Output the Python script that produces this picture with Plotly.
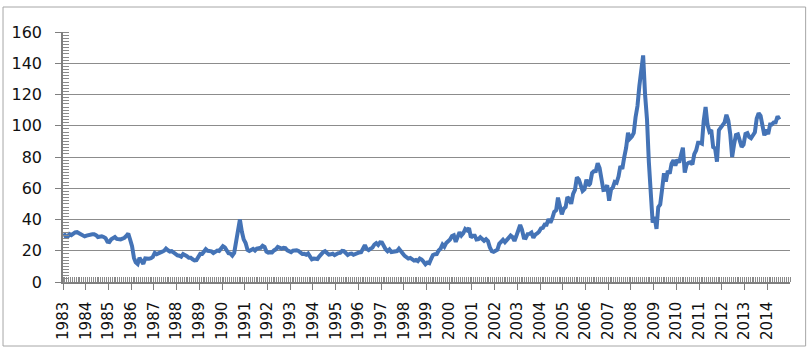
import pandas as pd
import plotly.graph_objects as go

# Monthly oil price (USD/barrel), Jan 1983 .. Jul 2014
p1983 = [31.2, 29.0, 28.8, 30.6, 30.0, 31.0, 31.7, 31.9, 31.1, 30.4, 29.8, 29.2]
p1984 = [29.7, 30.1, 30.8, 30.6, 30.5, 30.0, 28.8, 29.3, 29.3, 28.8, 28.1, 25.8]
p1985 = [25.6, 27.3, 28.2, 28.8, 27.6, 27.1, 27.3, 27.8, 28.3, 29.5, 31.0, 27.2]
p1986 = [22.9, 15.4, 12.6, 11.5, 15.4, 13.5, 11.6, 15.1, 14.9, 14.9, 15.2, 16.1]
p1987 = [18.6, 17.8, 18.3, 18.6, 19.4, 20.0, 21.4, 20.3, 19.5, 19.8, 18.9, 17.3]
p1988 = [17.1, 16.8, 16.2, 17.9, 17.4, 16.5, 15.5, 15.5, 14.5, 13.8, 14.0, 16.3]
p1989 = [18.0, 17.9, 19.4, 21.0, 20.0, 20.0, 19.6, 18.5, 19.6, 20.1, 19.8, 21.1]
p1990 = [22.9, 22.1, 20.4, 18.4, 18.2, 16.9, 18.6, 27.2, 33.7, 40.0, 32.3, 27.3]
p1991 = [25.0, 20.5, 19.9, 20.8, 21.2, 20.2, 21.4, 21.7, 21.9, 23.2, 22.5, 19.5]
p1992 = [18.8, 19.0, 18.9, 20.2, 20.9, 22.4, 21.8, 21.4, 21.9, 21.7, 20.3, 19.4]
p1993 = [19.1, 20.1, 20.3, 20.3, 19.9, 19.1, 17.9, 18.0, 17.5, 18.2, 16.7, 14.5]
p1994 = [15.0, 14.8, 14.7, 16.4, 17.9, 19.1, 19.7, 18.4, 17.5, 17.7, 18.1, 17.2]
p1995 = [18.0, 18.5, 18.6, 19.9, 19.7, 18.4, 17.3, 18.0, 18.2, 17.4, 18.0, 19.0]
p1996 = [18.9, 19.1, 21.3, 23.5, 21.2, 20.4, 21.3, 22.0, 24.0, 24.9, 23.7, 25.4]
p1997 = [25.2, 22.2, 21.0, 19.7, 20.8, 19.2, 19.6, 19.9, 19.8, 21.3, 20.2, 18.3]
p1998 = [16.7, 16.1, 15.0, 15.4, 14.9, 13.7, 14.1, 13.4, 15.0, 14.4, 12.9, 11.3]
p1999 = [12.5, 12.0, 14.7, 17.3, 17.8, 17.9, 20.1, 21.3, 23.9, 22.6, 25.0, 26.1]
p2000 = [27.2, 29.4, 29.9, 25.7, 28.8, 31.8, 29.7, 31.2, 33.9, 33.1, 34.4, 28.5]
p2001 = [29.6, 29.6, 27.2, 27.4, 28.6, 27.6, 26.4, 27.4, 26.2, 22.2, 19.7, 19.3]
p2002 = [19.7, 20.7, 24.4, 26.3, 27.0, 25.5, 26.9, 28.4, 29.7, 28.8, 26.3, 29.4]
p2003 = [32.9, 36.5, 33.6, 28.3, 28.1, 30.7, 30.8, 31.6, 28.3, 30.3, 31.1, 32.2]
p2004 = [34.3, 34.7, 36.8, 36.7, 40.3, 38.0, 40.7, 44.9, 45.9, 54.0, 48.5, 43.3]
p2005 = [46.8, 48.0, 54.3, 53.0, 50.0, 56.4, 59.0, 67.0, 65.6, 62.3, 58.3, 59.4]
p2006 = [65.5, 61.6, 62.9, 69.7, 70.9, 71.0, 76.0, 73.0, 63.8, 58.9, 59.1, 62.0]
p2007 = [52.0, 59.3, 60.4, 64.0, 63.5, 67.5, 74.1, 72.4, 79.9, 85.8, 95.5, 91.7]
p2008 = [93.0, 95.4, 105.5, 112.6, 125.4, 134.0, 145.0, 120.0, 104.1, 76.6, 57.3, 38.0]
p2009 = [41.7, 34.0, 47.9, 49.6, 59.0, 69.6, 64.2, 71.1, 69.4, 75.7, 78.0, 74.5]
p2010 = [78.3, 76.4, 81.2, 86.0, 70.0, 75.3, 76.3, 76.6, 75.2, 81.9, 84.3, 89.2]
p2011 = [89.2, 88.6, 102.9, 112.0, 100.9, 96.3, 97.3, 86.3, 85.5, 77.0, 97.2, 98.6]
p2012 = [100.3, 102.2, 107.0, 103.3, 94.7, 80.0, 87.9, 94.1, 94.5, 89.5, 86.5, 87.9]
p2013 = [94.8, 95.3, 92.9, 92.0, 94.5, 95.8, 104.6, 108.0, 106.3, 100.5, 93.9, 97.6]
p2014 = [94.6, 100.8, 100.8, 102.1, 102.2, 106.0, 104.0]

prices = (p1983 + p1984 + p1985 + p1986 + p1987 + p1988 + p1989 + p1990 + p1991
          + p1992 + p1993 + p1994 + p1995 + p1996 + p1997 + p1998 + p1999 + p2000
          + p2001 + p2002 + p2003 + p2004 + p2005 + p2006 + p2007 + p2008 + p2009
          + p2010 + p2011 + p2012 + p2013 + p2014)
dates = pd.date_range("1983-01-01", periods=len(prices), freq="MS") + pd.Timedelta(days=14)

year_labels = [str(y) for y in range(1983, 2015)]
year_ticks = [f"{y}-01-01" for y in year_labels]
y_ticks = [0, 20, 40, 60, 80, 100, 120, 140, 160]

fig = go.Figure()
fig.add_trace(go.Scatter(
    x=dates, y=prices, mode="lines",
    line=dict(color="#4473b6", width=4),
    showlegend=False, hoverinfo="x+y",
))

axis_col = "#7f7f7f"
fig.update_layout(
    width=811, height=349,
    margin=dict(l=63, r=21, t=32, b=67),
    paper_bgcolor="white", plot_bgcolor="white",
    font=dict(family="DejaVu Sans", size=16, color="#111111"),
    shapes=[dict(type="rect", xref="paper", yref="paper",
                 x0=-0.0825, x1=1.0215, y0=-0.256, y1=1.1,
                 line=dict(color="#a6a6a6", width=1), fillcolor="rgba(0,0,0,0)",
                 layer="below")],
)
fig.update_xaxes(
    type="date", range=["1983-01-01", "2015-01-01"],
    tickvals=year_ticks, ticktext=year_labels,
    tickangle=-90, tickfont=dict(family="DejaVu Sans", size=15, color="#111111"),
    ticks="outside", ticklen=6, tickcolor=axis_col, tickwidth=1,
    showline=True, linecolor=axis_col, linewidth=1.5,
    showgrid=False, zeroline=False, automargin=False,
    minor=dict(ticks="inside", ticklen=5, dtick="M1", tick0="1983-01-01",
               tickcolor="#8a8a8a", tickwidth=1, showgrid=False),
    ticklabelstandoff=6,
)
fig.update_yaxes(
    range=[0, 160], tickvals=y_ticks,
    tickfont=dict(family="DejaVu Sans", size=16, color="#111111"),
    ticks="outside", ticklen=6, tickcolor=axis_col, tickwidth=1,
    showline=True, linecolor=axis_col, linewidth=1.5,
    showgrid=True, gridcolor="#8c8c8c", gridwidth=1.2, zeroline=False,
    automargin=False,
    minor=dict(ticks="inside", ticklen=6, dtick=2, tick0=0,
               tickcolor="#8a8a8a", tickwidth=1, showgrid=False),
    ticklabelstandoff=10,
)

fig.write_html(
    "out.html",
    config={"displayModeBar": False},
    post_script="document.body.style.margin='0px';document.body.style.overflow='hidden';",
)
